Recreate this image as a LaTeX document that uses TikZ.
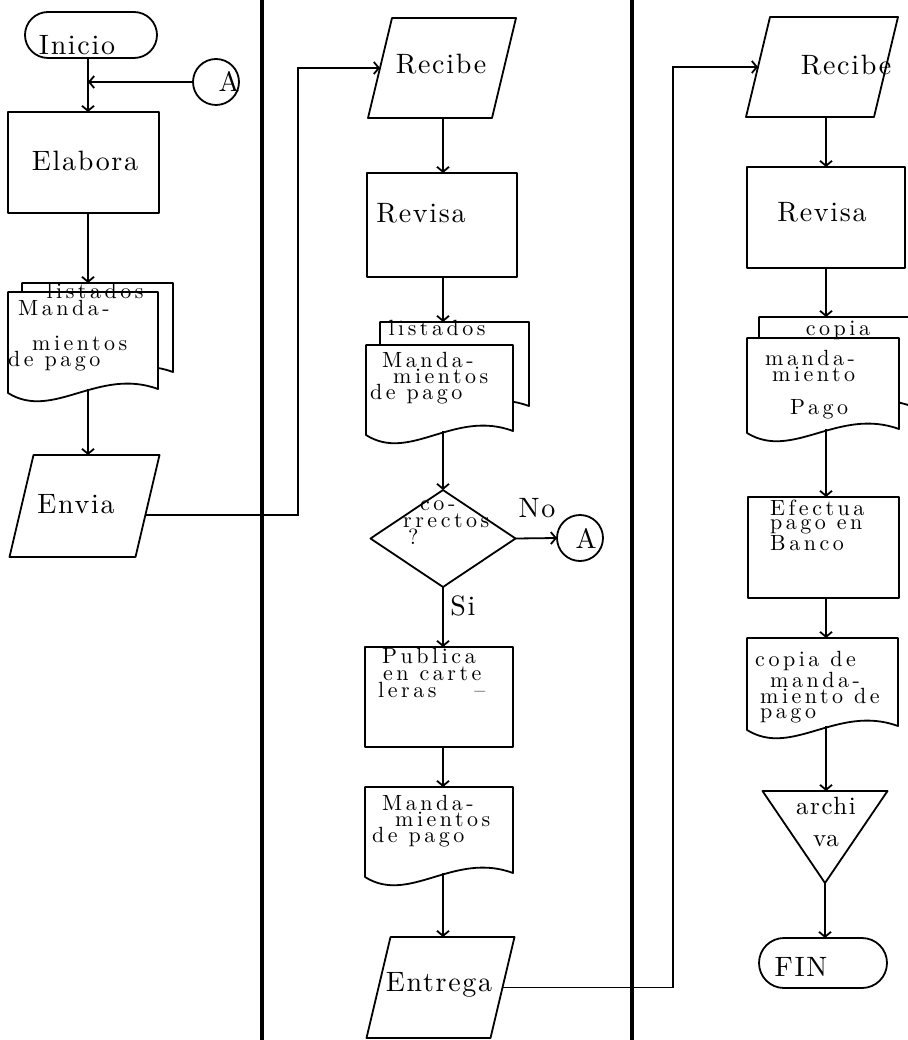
\documentclass[tikz,border=0pt]{standalone}
\usepackage{fontspec}
\setmainfont{lmroman10-regular.otf}
\newfontfamily\labelfont{lmroman10-regular.otf}[LetterSpace=6]
\newfontfamily\notefont{lmroman10-regular.otf}[LetterSpace=16]
\usetikzlibrary{arrows.meta,shapes.geometric,shapes.misc,calc}

% document symbol with a wavy lower edge; also leaves a named frame node
\newcommand\docshape[5]{% name, left, top, right, bottom
  \path[outline, fill=white] (#2,#3) -- (#4,#3) -- (#4,{#5-4})
    .. controls ({#2+0.6*(#4-#2)},{#5-26}) and ({#2+0.3*(#4-#2)},{#5+28}) .. (#2,#5) -- cycle;
  \node[frame, minimum width={(#4-#2)*1pt}, minimum height={(#5-#3)*1pt}]
    (#1) at ({(#2+#4)/2},{(#3+#5)/2}) {};
}
% input/output parallelogram around a named frame node
\newcommand\iobox[5]{% name, cx, cy, mid width, height
  \node[frame, minimum width=#4pt, minimum height=#5pt] (#1) at (#2,#3) {};
  \draw[outline, fill=white] ([xshift=-12pt]#1.south west) -- ([xshift=-12pt]#1.south east)
    -- ([xshift=12pt]#1.north east) -- ([xshift=12pt]#1.north west) -- cycle;
}

\begin{document}
\begin{tikzpicture}[x=1pt, y=-1pt,
  outline/.style={draw, line width=1.8pt, line join=round},
  stepbox/.style={outline, rectangle, inner sep=0pt, outer sep=0pt},
  frame/.style={rectangle, inner sep=0pt, outer sep=0pt},
  terminal/.style={outline, rounded rectangle, inner sep=0pt, outer sep=0pt},
  joint/.style={outline, circle, inner sep=0pt, outer sep=0pt, minimum size=46pt},
  decision/.style={outline, diamond, inner sep=0pt, outer sep=0pt},
  bigtext/.style={font=\labelfont\fontsize{28}{30}\selectfont, inner sep=0pt},
  doctext/.style={font=\notefont\fontsize{22}{16}\selectfont, inner sep=0pt, align=left},
  flow/.style={line width=1.8pt, -{Straight Barb[length=5pt,width=12pt,line width=1.8pt]}},
  lane/.style={line width=3.5pt}
]
\fill[white] (0,0) rectangle (907,1040);
\useasboundingbox (0,0) rectangle (907,1040);

% lane dividers
\coordinate (lane1-top) at (262,-5);
\coordinate (lane1-bot) at (262,1045);
\coordinate (lane2-top) at (632,-5);
\coordinate (lane2-bot) at (632,1045);
\draw[lane] (lane1-top) -- (lane1-bot);
\draw[lane] (lane2-top) -- (lane2-bot);

% guide lines for the connectors
\coordinate (col1) at (88,0);
\coordinate (col2) at (443,0);
\coordinate (col3) at (826,0);
\coordinate (bus1) at (298,0);
\coordinate (bus2) at (673,0);

% ---------- first lane ----------
\node[terminal, minimum width=132pt, minimum height=46pt] (inicio) at (91,35) {};
\node[bigtext] (inicio-t) at (77,45) {Inicio};
\node[joint] (a1) at (216,82) {};
\node[bigtext] (a1-t) at (229,81) {A};
\node[stepbox, minimum width=151pt, minimum height=101pt] (elab) at (83.5,162.5) {};
\node[bigtext] (elab-t) at (85,161) {Elabora};

\docshape{lst1}{22}{283}{173}{376}
\docshape{man1}{8}{292}{158}{393}
\node[doctext, anchor=north] (lst1-t) at (95,283) {listados};
\node[doctext, anchor=north west] (man1-t) at (8,300)
  {\hspace*{10pt}Manda-\\[19pt]\hspace*{24pt}mientos\\de pago};

\iobox{envia}{84.5}{506}{126}{102}
\node[bigtext] (envia-t) at (76,504) {Envia};

% ---------- second lane ----------
\iobox{rec2}{442}{68}{124}{100}
\node[bigtext] (rec2-t) at (441,64) {Recibe};
\node[stepbox, minimum width=150pt, minimum height=104pt] (rev2) at (442,225) {};
\node[bigtext] (rev2-t) at (421,213) {Revisa};

\docshape{lst2}{380}{322}{529}{410}
\docshape{man2}{366}{345}{513}{435}
\node[doctext, anchor=north] (lst2-t) at (437,320) {listados};
\node[doctext, anchor=north west] (man2-t) at (370,352)
  {\hspace*{12pt}Manda-\\\hspace*{23pt}mientos\\de pago};

\node[decision, minimum width=145pt, minimum height=97pt] (q) at (443,538.5) {};
\node[doctext, anchor=north west, font=\notefont\fontsize{22}{17}\selectfont] (q-t) at (403,500)
  {\hspace*{17pt}co-\\rrectos\\\hspace*{5pt}?};
\node[joint] (a2) at (580,538) {};
\node[bigtext] (a2-t) at (586,538) {A};
\node[bigtext] (no-t) at (537,508) {No};
\node[bigtext] (si-t) at (463,606) {Si};

\node[stepbox, minimum width=148pt, minimum height=100pt] (pub) at (439,697) {};
\node[doctext, anchor=north west, font=\notefont\fontsize{22}{17}\selectfont] (pub-t) at (378,648)
  {\hspace*{4pt}Publica\\\hspace*{5pt}en carte\\leras\hspace*{38pt}\textendash};

\docshape{man3}{365}{787}{513}{877}
\node[doctext, anchor=north west] (man3-t) at (372,795)
  {\hspace*{10pt}Manda-\\\hspace*{23pt}mientos\\de pago};

\iobox{entrega}{440.5}{987.5}{124}{101}
\node[bigtext] (entrega-t) at (439,985) {Entrega};

% ---------- third lane ----------
\iobox{rec3}{822}{67}{128}{100}
\node[bigtext] (rec3-t) at (846,65) {Recibe};
\node[stepbox, minimum width=158pt, minimum height=101pt] (rev3) at (826,217.5) {};
\node[bigtext] (rev3-t) at (822,212) {Revisa};

\docshape{cop1}{759}{317}{911}{410}
\docshape{cop2}{747}{338}{899}{433}
\node[doctext, anchor=north] (cop1-t) at (838,321) {copia};
\node[doctext, anchor=north west, font=\notefont\fontsize{22}{14}\selectfont] (cop2-t) at (765,350)
  {manda-\\\hspace*{7pt}miento\\[17pt]\hspace*{25pt}Pago};

\node[stepbox, minimum width=151pt, minimum height=101pt] (efec) at (823.5,547.5) {};
\node[doctext, anchor=north west, font=\notefont\fontsize{22}{14}\selectfont] (efec-t) at (770,500)
  {Efectua\\pago en\\Banco};

\docshape{cop3}{747}{638}{898}{730}
\node[doctext, anchor=north west, font=\notefont\fontsize{22}{15}\selectfont] (cop3-t) at (755,651)
  {copia de\\\hspace*{15pt}manda-\\\hspace*{5pt}miento de\\\hspace*{5pt}pago};

\node[frame, minimum width=125pt, minimum height=92pt] (tri) at (825,837) {};
\draw[outline] (tri.north west) -- (tri.north east) -- (tri.south) -- cycle;
\node[font=\labelfont\fontsize{25}{32}\selectfont, align=center, anchor=north, inner sep=0pt]
  (tri-t) at (826,797) {archi\\va};

\node[terminal, minimum width=128pt, minimum height=50pt] (fin) at (823,963) {};
\node[bigtext] (fin-t) at (801,967) {FIN};

% ---------- connectors ----------
\draw[flow] (col1 |- inicio.south) -- (col1 |- elab.north);
\draw[flow] (a1.west) -- (col1 |- a1.west);
\draw[flow] (col1 |- elab.south) -- (col1 |- lst1.north);
\draw[flow] ($(col1 |- man1.south)+(0,-4)$) -- (col1 |- envia.north);
\draw[flow] ($(envia.east)+(-2,9)$) -| (bus1 |- rec2.west) -- (rec2.west);

\draw[flow] (col2 |- rec2.south) -- (col2 |- rev2.north);
\draw[flow] (col2 |- rev2.south) -- (col2 |- lst2.north);
\draw[flow] ($(col2 |- man2.south)+(0,-4)$) -- (q.north);
\draw[flow] (q.east) -- (a2.west);
\draw[flow] (q.south) -- (col2 |- pub.north);
\draw[flow] (col2 |- pub.south) -- (col2 |- man3.north);
\draw[flow] ($(col2 |- man3.south)+(0,-4)$) -- (col2 |- entrega.north);
\draw[flow] (entrega.east) -| (bus2 |- rec3.west) -- (rec3.west);

\draw[flow] (col3 |- rec3.south) -- (col3 |- rev3.north);
\draw[flow] (col3 |- rev3.south) -- (col3 |- cop1.north);
\draw[flow] ($(col3 |- cop2.south)+(0,-4)$) -- (col3 |- efec.north);
\draw[flow] (col3 |- efec.south) -- (col3 |- cop3.north);
\draw[flow] ($(col3 |- cop3.south)+(0,-4)$) -- (col3 |- tri.north);
\draw[flow] (tri.south) -- (tri.south |- fin.north);
\end{tikzpicture}
\end{document}
